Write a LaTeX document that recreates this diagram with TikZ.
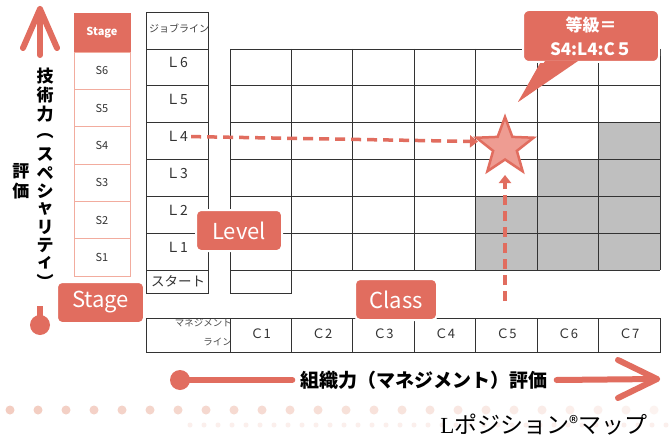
\documentclass[tikz,border=0pt]{standalone}
\usepackage{fontspec}
\newfontfamily\jp{Noto Sans CJK JP}
\newfontfamily\serifl{Liberation Serif}
\usetikzlibrary{shapes.geometric,arrows.meta,positioning}

\definecolor{lpred}{RGB}{225,109,95}
\definecolor{lppink}{RGB}{238,156,146}
\definecolor{lpline}{RGB}{242,172,158}
\definecolor{lpgray}{RGB}{191,191,191}
\definecolor{lpdot}{RGB}{243,205,193}

\tikzset{
  every node/.style={font=\jp, inner sep=0pt},
  stagecell/.style={draw=lpline, line width=0.9pt, minimum width=56pt, minimum height=37.33pt,
    font=\jp\fontsize{11}{11}\selectfont, text=black!80},
  jobcell/.style={draw=black!80, line width=0.8pt, minimum width=62pt, minimum height=36.83pt},
  ccell/.style={draw=black!80, line width=0.8pt, minimum width=61.43pt, minimum height=34pt,
    font=\jp\fontsize{13}{13}\selectfont, text=black!80},
  gridline/.style={draw=black!80, line width=0.8pt},
  tagbox/.style={fill=lpred, draw=white, line width=2pt, rounded corners=5pt, minimum height=41pt,
    text=white, font=\jp\fontsize{22}{22}\selectfont},
  dasharrow/.style={draw=lpred, line width=3.5pt, dash pattern=on 10pt off 6pt,
    -{Triangle[width=12pt,length=8pt]}},
  axisline/.style={draw=lpred, line width=6pt, line cap=round, line join=round},
  axisdot/.style={circle, fill=lpred, minimum size=20pt},
  vchar/.style={font=\jp\bfseries\fontsize{17}{17}\selectfont},
}

\begin{document}
\begin{tikzpicture}[x=1pt, y=-1pt]
\fill[white] (0,0) rectangle (671,441);
\useasboundingbox (0,0) rectangle (671,441);

% background dots
\foreach \i in {0,...,23}
  \fill[lpdot, opacity={1-\i/30}] (10+28*\i,410) circle (4.5);
\foreach \i in {0,...,34}
  \fill[lpdot, opacity=0.3] (190+14*\i,425) circle (2.5);

% stage column
\node[fill=lpred, draw=lpred, minimum width=56pt, minimum height=39pt, text=white,
  font=\jp\bfseries\fontsize{11}{11}\selectfont] (stagehd) at (102,32.5) {Stage};
\foreach \i/\y in {6/70.7, 5/108, 4/145.3, 3/182.7, 2/220, 1/257.3}
  \node[stagecell] (s\i) at (102,\y) {S\i};

% job line column
\node[jobcell] (jobhd) at (177,31) {};
\node[font=\jp\fontsize{10}{10}\selectfont, text=black!75] (jobtxt) at (179,28) {ジョブライン};
\foreach \i/\y in {6/67.4, 5/104.3, 4/141.1, 3/177.9, 2/214.8, 1/251.6}{
  \node[jobcell] (l\i) at (177,\y) {};
  \node[font=\jp\fontsize{14}{14}\selectfont, text=black!80] (lt\i) at ([yshift=4.5pt]l\i.center) {Ｌ\i};
}
\node[draw=black!80, line width=0.8pt, minimum width=62pt, minimum height=23pt] (start) at (177,281.5) {};
\node[anchor=west, font=\jp\fontsize{13.5}{13.5}\selectfont, text=black!80] (starttxt) at (151,281) {スタート};

% main grid
\fill[lpgray] (598.57,122.7) rectangle (660,159.5);
\fill[lpgray] (537.14,159.5) rectangle (660,196.3);
\fill[lpgray] (475.71,196.3) rectangle (660,270);
\foreach \y in {49,85.8,122.7,159.5,196.3,233.2,270}
  \draw[gridline] (230,\y) -- (660,\y);
\foreach \x in {230,291.43,352.86,414.29,475.71,537.14,598.57,660}
  \draw[gridline] (\x,49) -- (\x,270);
\draw[gridline] (230,270) -- (230,293) -- (291.43,293) -- (291.43,270);

% management line row
\node[draw=black!80, line width=0.8pt, minimum width=84pt, minimum height=34pt] (mghd) at (188,335) {};
\node[anchor=east, font=\jp\fontsize{9.5}{9.5}\selectfont, text=black!70] (mgtxt1) at (232,323) {マネジメント};
\node[anchor=east, font=\jp\fontsize{9.5}{9.5}\selectfont, text=black!70] (mgtxt2) at (232,342) {ライン};
\foreach \i/\x in {1/260.71, 2/322.14, 3/383.57, 4/445, 5/506.43, 6/567.86, 7/629.29}
  \node[ccell] (c\i) at (\x,335) {\raisebox{2pt}{Ｃ\i}};

% star and dashed arrows
\node[star, star points=5, star point ratio=2.4, minimum size=60pt, fill=lppink, draw=lpred,
  line width=2.5pt] (star) at (505,147) {};
\coordinate (c5mark) at (505,301);
\draw[dasharrow, shorten >=27pt] ([xshift=3pt]lt4.east) -- ([yshift=5pt]star.center);
\draw[dasharrow, shorten >=28pt] (c5mark) -- (star.center);

% tags
\node[tagbox, minimum width=86pt] (leveltag) at (239,230.5) {Level};
\node[tagbox, minimum width=82pt] (classtag) at (396,299.5) {Class};
\node[tagbox, minimum width=87pt] (stagetag) at (100.5,302.5) {Stage};

% callout
\fill[lpred] (543,58) -- (518,102) -- (580,58) -- cycle;
\node[fill=lpred, draw=white, line width=2pt, rounded corners=6pt, minimum width=136pt,
  minimum height=52pt, text=white, align=center,
  font=\jp\bfseries\fontsize{17}{24}\selectfont] (callout) at (591,36) {等級＝\\S4:L4:C５};
\fill[lpred] (545,61) -- (518,102) -- (578,61) -- cycle;

% vertical axis
\coordinate (vtip) at (40,9);
\coordinate (vtail) at (40,55);
\draw[axisline] (vtail) -- (vtip);
\draw[axisline] ([shift={(-17,39)}]vtip) -- (vtip) -- ([shift={(17,39)}]vtip);
\foreach \c/\y [count=\k] in {技/76,術/95,力/114,︵/136,ス/155,ペ/173,シ/191,ャ/209,リ/227,テ/245,ィ/263,︶/281}
  \node[vchar] (vt\k) at (45,\y) {\c};
\node[vchar] (vh1) at (21,171) {評};
\node[vchar] (vh2) at (21,191) {価};
\node[axisdot] (vdot) at (40,325) {};
\coordinate (vstub) at (40,306);
\draw[axisline, line cap=butt] (vdot.center) -- (vstub);

% horizontal axis
\node[font=\jp\bfseries\fontsize{19}{19}\selectfont] (haxis) at (424,380) {組織力（マネジメント）評価};
\node[axisdot] (hdot) at (180,380) {};
\coordinate (htip) at (657,379);
\draw[axisline] (hdot.center) -- ([xshift=-8pt]haxis.west);
\draw[axisline] ([xshift=9pt]haxis.east) -- (htip);
\draw[axisline] ([shift={(-39,-19)}]htip) -- (htip) -- ([shift={(-39,19)}]htip);

% title
\node[font=\jp\fontsize{23}{23}\selectfont] (maptitle) at (544,425)
  {{\serifl L}ポジション{\fontsize{19}{19}\selectfont\raisebox{3pt}{®}}マップ};
\end{tikzpicture}
\end{document}
